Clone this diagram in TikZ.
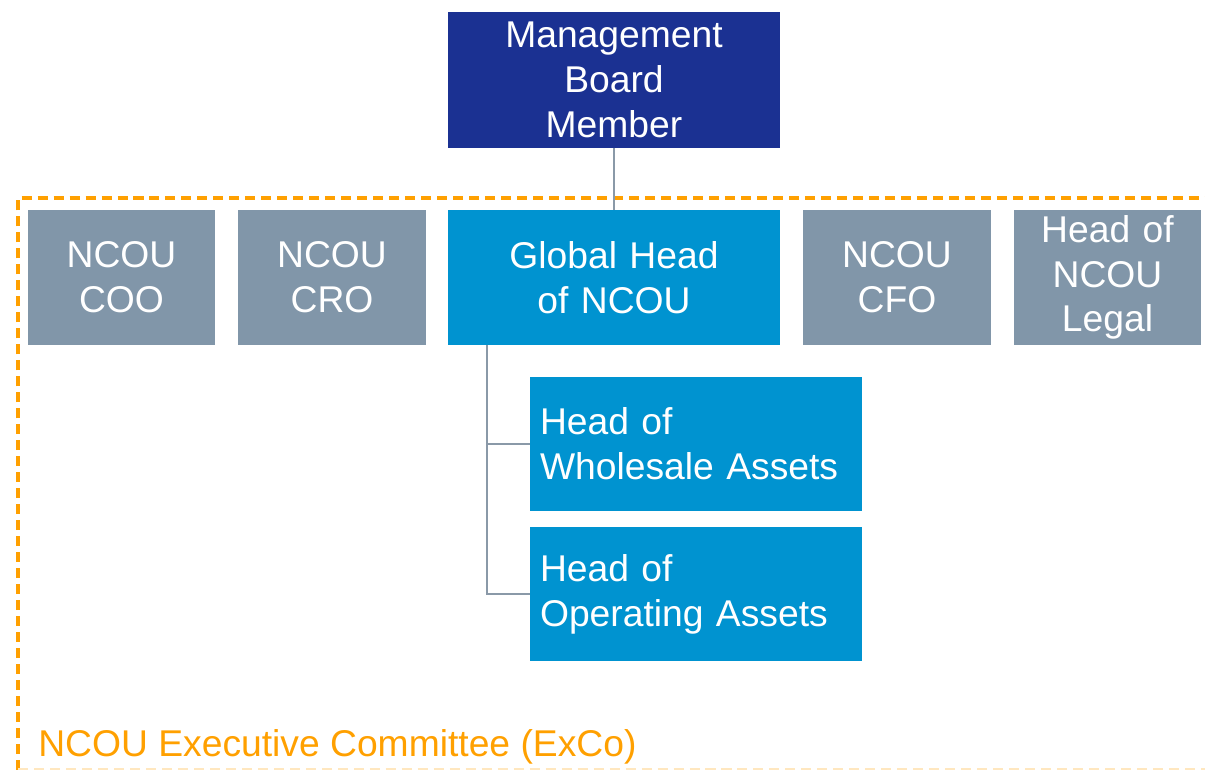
\documentclass[tikz,border=0pt]{standalone}
\usepackage{fontspec}
\setmainfont{Liberation Sans}
\usetikzlibrary{positioning,calc}
\definecolor{boardblue}{HTML}{1B3192}
\definecolor{ncoublue}{HTML}{0093D0}
\definecolor{staffgray}{HTML}{8196A9}
\definecolor{linkgray}{HTML}{8A99A8}
\definecolor{excoorange}{HTML}{FFA000}
\tikzset{
	box/.style={fill=#1,text=white,align=center,inner sep=0pt,font=\fontsize{21.2}{25.5}\selectfont},
	staff/.style={box=staffgray,minimum width=3.76cm,minimum height=2.7cm,text width=3.6cm},
	unit/.style={box=ncoublue,minimum width=6.64cm,minimum height=2.68cm,text width=6.24cm,align=left},
	link/.style={draw=linkgray,line width=1.2pt}
}
\begin{document}
\begin{tikzpicture}[x=0.02cm,y=-0.02cm]
			\useasboundingbox (0,0) rectangle (1205,770);
			\draw[excoorange,line width=2pt,dash pattern=on 5.7pt off 3.4pt] (18,770)--(18,198)--(1215,198);
			\draw[excoorange!25,line width=1pt,dash pattern=on 5.7pt off 3.4pt] (18,769)--(1215,769);
			\node[box=boardblue,minimum width=6.64cm,minimum height=2.72cm,text width=6.4cm] (mgmt) at (614,80) {Management\\Board\\Member};
			\node[staff] (coo) at (121.5,277.5) {NCOU\\COO};
			\node[staff] (cro) at (332,277.5) {NCOU\\CRO};
			\node[box=ncoublue,minimum width=6.64cm,minimum height=2.7cm,text width=6.4cm] (ghead) at (614,277.5) {Global Head\\of NCOU};
			\node[staff] (cfo) at (897,277.5) {NCOU\\CFO};
			\node[staff] (legal) at (1107.5,277.5) {Head of\\NCOU\\Legal};
			\node[unit] (wholesale) at (696,444) {Head of\\Wholesale Assets};
			\node[unit] (operating) at (696,594) {Head of\\Operating Assets};
			\draw[link] (mgmt.south)--(ghead.north);
			\draw[link] ($(ghead.south west)+(39,0)$) |- (wholesale.west);
			\draw[link] ($(ghead.south west)+(39,0)$) |- (operating.west);
			\node[anchor=base west,text=excoorange,inner sep=0pt,font=\fontsize{21.2}{25.5}\selectfont] (exco) at (38,756) {NCOU Executive Committee (ExCo)};
		\end{tikzpicture}
\end{document}
